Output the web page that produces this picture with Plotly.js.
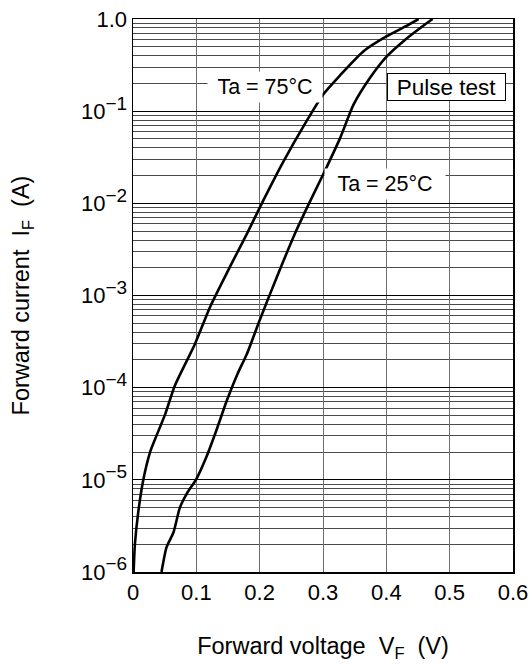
<!DOCTYPE html>
<html>
<head>
<meta charset="utf-8">
<script src="https://cdn.plot.ly/plotly-3.0.1.min.js"></script>
<style>html,body{margin:0;padding:0;background:#fff;}#chart{width:532px;height:666px;}</style>
</head>
<body>
<div id="chart"></div>
<script>
// Forward voltage (V) and forward current (A), Ta = 75°C
var vf75 = [0.001, 0.003, 0.008, 0.016, 0.027, 0.037, 0.051, 0.066, 0.098, 0.122, 0.153, 0.180, 0.205, 0.237, 0.274, 0.300, 0.327, 0.364, 0.400, 0.430, 0.451];
var if75 = [1e-6, 2.0e-6, 4.3e-6, 9.8e-6, 2.0e-5, 3.0e-5, 5.2e-5, 1.05e-4, 3.0e-4, 7.6e-4, 2.04e-3, 4.7e-3, 1.05e-2, 2.8e-2, 7.8e-2, 0.151, 0.245, 0.447, 0.646, 0.83, 1.0];
// Ta = 25°C
var vf25 = [0.045, 0.053, 0.064, 0.074, 0.085, 0.100, 0.116, 0.132, 0.148, 0.165, 0.180, 0.200, 0.227, 0.258, 0.278, 0.300, 0.327, 0.348, 0.374, 0.400, 0.427, 0.453, 0.473];
var if25 = [1e-6, 1.86e-6, 2.7e-6, 5.0e-6, 7.1e-6, 1.02e-5, 1.78e-5, 3.5e-5, 7.2e-5, 1.41e-4, 2.34e-4, 5.4e-4, 1.58e-3, 5.1e-3, 1.0e-2, 2.04e-2, 5.1e-2, 0.117, 0.229, 0.389, 0.575, 0.794, 1.0];

var yTickVals = [1e-6, 1e-5, 1e-4, 1e-3, 1e-2, 1e-1, 1];
var yExponents = ['\u22126', '\u22125', '\u22124', '\u22123', '\u22122', '\u22121'];
var xTickVals = [0, 0.1, 0.2, 0.3, 0.4, 0.5, 0.6];
var xTickText = ['0', '0.1', '0.2', '0.3', '0.4', '0.5', '0.6'];
var labelTexts = ['Ta = 75\u00B0C', 'Ta = 25\u00B0C', 'Pulse test'];

var yTickText = yExponents.map(function (e) {
  return '10<sup><span style="font-size:19px">' + e + '</span></sup>';
});
yTickText.push('1.0');

var minorVals = [];
for (var d = -6; d < 0; d++) {
  for (var m = 2; m <= 9; m++) minorVals.push(m * Math.pow(10, d));
}

var FONT = 'Liberation Sans, Arial, Helvetica, sans-serif';
var NB = '\u00A0';

var traces = [
  {x: vf75, y: if75, type: 'scatter', mode: 'lines', line: {color: '#000', width: 2.6, shape: 'spline', smoothing: 0.6}, hoverinfo: 'skip'},
  {x: vf25, y: if25, type: 'scatter', mode: 'lines', line: {color: '#000', width: 2.6, shape: 'spline', smoothing: 0.6}, hoverinfo: 'skip'}
];

var layout = {
  width: 532, height: 666,
  margin: {l: 133, r: 19, t: 19, b: 94},
  paper_bgcolor: '#fff', plot_bgcolor: '#fff',
  showlegend: false,
  font: {family: FONT, size: 21, color: '#000'},
  xaxis: {
    range: [0, 0.6], tickmode: 'array', tickvals: xTickVals, ticktext: xTickText,
    showgrid: true, gridcolor: '#6e6e6e', gridwidth: 1, zeroline: false,
    showline: true, linecolor: '#000', linewidth: 1.5, mirror: true,
    ticks: '', ticklen: 0, tickfont: {size: 22},
    title: {text: 'Forward voltage' + NB + NB + 'V<sub>F</sub>' + NB + NB + '(V)', font: {size: 23.5}, standoff: 33}
  },
  yaxis: {
    type: 'log', range: [-6, 0], tickmode: 'array', tickvals: yTickVals, ticktext: yTickText,
    showgrid: true, gridcolor: '#000', gridwidth: 1, zeroline: false,
    showline: true, linecolor: '#000', linewidth: 1.5, mirror: true,
    ticks: '', ticklen: 0, tickfont: {size: 22},
    minor: {tickmode: 'array', tickvals: minorVals, showgrid: true, gridcolor: '#4a4a4a', gridwidth: 1, ticks: ''},
    title: {text: 'Forward current' + NB + NB + 'I<sub>F</sub>' + NB + NB + '(A)', font: {size: 23.5}, standoff: 44}
  },
  annotations: [
    {x: 0.208, y: -0.736, xref: 'x', yref: 'y', text: labelTexts[0], showarrow: false, bgcolor: '#fff', width: 112, height: 28, font: {size: 21.5}},
    {x: 0.398, y: -1.79, xref: 'x', yref: 'y', text: labelTexts[1], showarrow: false, bgcolor: '#fff', width: 118, height: 28, font: {size: 21.5}},
    {x: 0.4945, y: -0.737, xref: 'x', yref: 'y', text: labelTexts[2], showarrow: false, bgcolor: '#fff', bordercolor: '#000', borderwidth: 1, width: 115, height: 24, font: {size: 22.5}}
  ]
};

Plotly.newPlot('chart', traces, layout, {staticPlot: true, displayModeBar: false});
</script>
</body>
</html>
